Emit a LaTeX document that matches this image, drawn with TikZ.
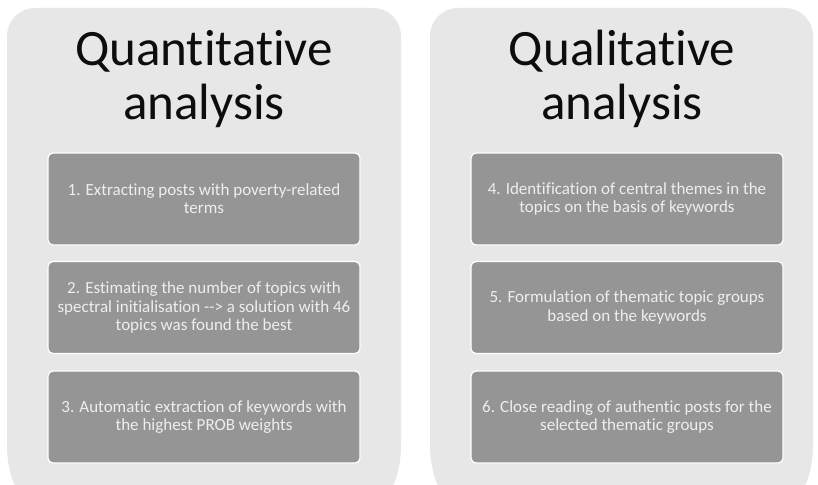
\documentclass[tikz,border=0pt]{standalone}
\usepackage{fontspec}
\setmainfont{Carlito}[Ligatures={NoCommon}]
\definecolor{panelgray}{HTML}{E7E7E7}
\definecolor{boxgray}{HTML}{959595}
\definecolor{boxtext}{HTML}{EEEEEE}
\definecolor{titletext}{HTML}{0D0D0D}
\tikzset{
  panel/.style={fill=panelgray, draw=none},
  stepbox/.style={fill=boxgray, draw=white, line width=1.2pt, rounded corners=5pt,
    minimum width=312pt, minimum height=92pt, inner sep=0pt,
    text=boxtext, align=center, font=\fontsize{17}{18.3}\selectfont},
  title/.style={text=titletext, align=center, inner sep=0pt,
    font=\fontsize{51}{54}\selectfont}
}
\begin{document}
\begin{tikzpicture}[x=1pt,y=-1pt]
\useasboundingbox (0,0) rectangle (818,484);
\fill[white] (0,0) rectangle (818,484);
\begin{scope}
\clip (0,0) rectangle (818,484);
\path[panel] (7,445) -- (7,36) .. controls (7,20.5) and (19.5,8) .. (35,8) -- (373,8)
  .. controls (388.5,8) and (401,20.5) .. (401,36) -- (401,445)
  .. controls (401,478) and (387.6,505) .. (371,505) -- (37,505)
  .. controls (20.4,505) and (7,478) .. (7,445) -- cycle;
\path[panel] (430,445) -- (430,36) .. controls (430,20.5) and (442.5,8) .. (458,8) -- (785,8)
  .. controls (800.5,8) and (813,20.5) .. (813,36) -- (813,445)
  .. controls (813,478) and (799.6,505) .. (783,505) -- (460,505)
  .. controls (443.4,505) and (430,478) .. (430,445) -- cycle;
\end{scope}
\node[title] (t1) at (204,79) {Quantitative\vphantom{l}\\analysis};
\node[title] (t2) at (622,79) {Qualitative\\analysis};
\node[stepbox] (s1) at (204,199) {1. Extracting posts with poverty-related\\terms};
\node[stepbox] (s2) at (204,307.5) {2. Estimating the number of topics with\\spectral initialisation -{}-> a solution with 46\\topics was found the best};
\node[stepbox] (s3) at (204,417) {3. Automatic extraction of keywords with\\the highest PROB weights};
\node[stepbox] (s4) at (627,199) {4. Identification of central themes in the\\topics on the basis of keywords};
\node[stepbox] (s5) at (627,307.5) {5. Formulation of thematic topic groups\\based on the keywords};
\node[stepbox] (s6) at (627,417) {6. Close reading of authentic posts for the\\selected thematic groups};
\end{tikzpicture}
\end{document}
